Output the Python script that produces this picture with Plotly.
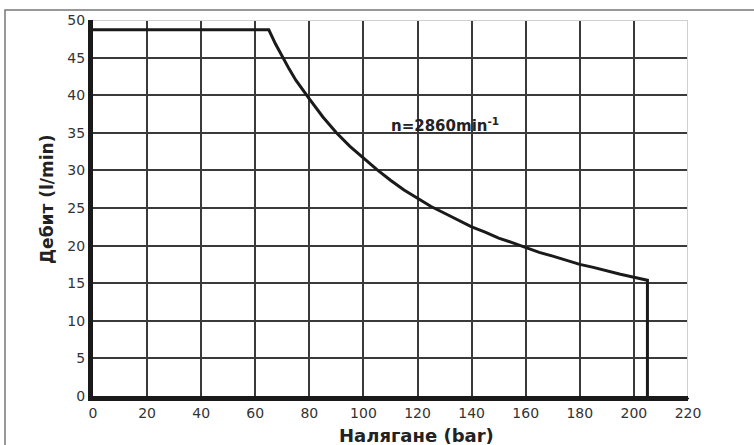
import plotly.graph_objects as go

# Data
pressure = [0, 65, 67.5, 70, 72.5, 75, 77.5, 80, 85, 90, 95, 100, 105, 110, 115, 120, 125,
            130, 135, 140, 145, 150, 155, 160, 165, 170, 175, 180, 185, 190, 195, 200, 205, 205]
flow = [48.7, 48.7, 46.8, 45.1, 43.5, 42.0, 40.7, 39.5, 37.1, 35.0, 33.2, 31.6, 30.1, 28.7, 27.4,
        26.3, 25.2, 24.3, 23.4, 22.5, 21.8, 21.0, 20.4, 19.7, 19.1, 18.6, 18.0, 17.5, 17.1,
        16.6, 16.2, 15.8, 15.4, 0]

x_ticks = list(range(0, 221, 20))
y_ticks = list(range(0, 51, 5))

FONT = "DejaVu Sans, Arial, sans-serif"

fig = go.Figure()
fig.add_trace(go.Scatter(x=pressure, y=flow, mode="lines",
                         line=dict(color="#1a1a1a", width=3), showlegend=False,
                         hoverinfo="skip"))

L, R, T, B = 93, 66, 18, 49
W, H = 754, 445
pw, ph = W - L - R, H - T - B

def px(xpix):
    return (xpix - L) / pw

def py(ypix):
    return 1 - (ypix - T) / ph

fig.update_layout(
    width=W, height=H,
    margin=dict(l=L, r=R, t=T, b=B),
    paper_bgcolor="white", plot_bgcolor="white",
    font=dict(family=FONT, size=14, color="#333"),
    xaxis=dict(range=[0, 220], tickvals=x_ticks, showgrid=True, gridcolor="#3a3a3a",
               gridwidth=2, zeroline=False, showline=True, linecolor="#1a1a1a",
               linewidth=5, ticks="", tickfont=dict(size=14, color="#333"), fixedrange=True),
    yaxis=dict(range=[0, 50], tickvals=y_ticks, showgrid=True, gridcolor="#3a3a3a",
               gridwidth=2, zeroline=False, showline=True, linecolor="#1a1a1a",
               linewidth=5, ticks="", tickfont=dict(size=14, color="#333"), fixedrange=True),
    shapes=[
        # light top and right grid lines
        dict(type="line", xref="x", yref="y", x0=0, x1=220, y0=50, y1=50,
             line=dict(color="#d0d0d0", width=2), layer="above"),
        dict(type="line", xref="x", yref="y", x0=220, x1=220, y0=0, y1=50,
             line=dict(color="#d0d0d0", width=2), layer="above"),
        # dashed outer edges on axis lines
        dict(type="line", xref="paper", yref="paper", x0=px(90.5), x1=px(90.5), y0=py(398), y1=py(17),
             line=dict(color="#1a1a1a", width=1.5, dash="3px,2px"), layer="above"),
        dict(type="line", xref="paper", yref="paper", x0=px(91), x1=px(690), y0=py(398.5), y1=py(398.5),
             line=dict(color="#1a1a1a", width=1.5, dash="3px,2px"), layer="above"),
        # outer frame
        dict(type="rect", xref="paper", yref="paper", x0=px(5), x1=px(800), y0=py(500), y1=py(8),
             line=dict(color="#777", width=1.5), layer="above"),
    ],
    annotations=[
        dict(text="<b>n=2860min<sup>-1</sup></b>", x=109.5, y=36.0, xref="x", yref="y",
             xanchor="left", yanchor="middle", showarrow=False,
             font=dict(family=FONT, size=15, color="#222")),
        dict(text="<b>Налягане (bar)</b>", x=px(416), y=py(436), xref="paper", yref="paper",
             xanchor="center", yanchor="middle", showarrow=False,
             font=dict(family=FONT, size=18, color="#222")),
        dict(text="<b>Дебит (l/min)</b>", x=px(47), y=py(199), xref="paper", yref="paper",
             xanchor="center", yanchor="middle", showarrow=False, textangle=-90,
             font=dict(family=FONT, size=17, color="#222")),
    ],
)

fig.write_html("out.html")
